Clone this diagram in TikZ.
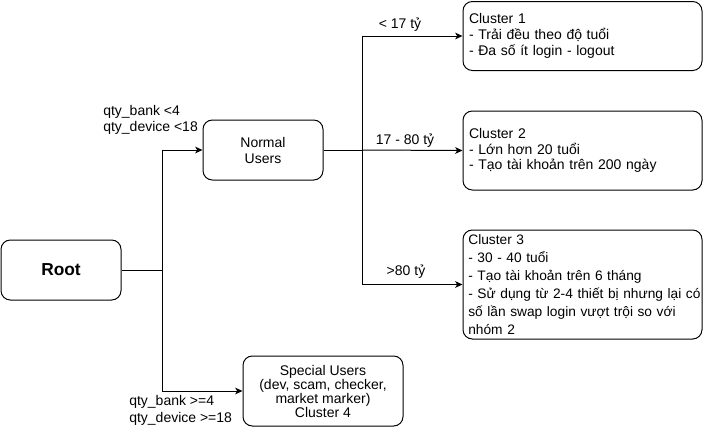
\documentclass[tikz,border=0pt]{standalone}
\usepackage{fontspec}
\setmainfont{Liberation Sans}
\usetikzlibrary{arrows.meta}
\begin{document}
\begin{tikzpicture}[x=0.75pt,y=-0.75pt,
  box/.style={draw,line width=0.75pt,rounded corners=7pt,inner sep=0pt,font=\fontsize{10.5pt}{12pt}\selectfont},
  cbox/.style={box,inner xsep=4.5pt,inner ysep=0pt,text width=170.25pt,minimum width=179.25pt,align=left},
  lbl/.style={inner sep=0pt,font=\fontsize{10.5pt}{12pt}\selectfont},
  conn/.style={line width=0.75pt,-{Stealth[length=5.5pt,width=5pt,inset=1.5pt]}},
  plain/.style={line width=0.75pt}]
\useasboundingbox (0,0) rectangle (704,426);
\node[box,minimum width=90pt,minimum height=45pt,font=\fontsize{13pt}{15pt}\selectfont\bfseries] (root) at (61,270) {Root};
\node[box,minimum width=90pt,minimum height=45pt,align=center] (normal) at (263,150) {Normal\\Users};
\node[box,minimum width=120pt,minimum height=52.5pt,align=center,font=\fontsize{10.5pt}{10.5pt}\selectfont] (special) at (323,391) {Special Users\\(dev, scam, checker,\\market marker)\\Cluster 4};
\node[cbox,minimum height=51.75pt,font=\fontsize{10.5pt}{11.9pt}\selectfont] (c1) at (582.5,36) {Cluster 1\\- Trải đều theo độ tuổi\\- Đa số ít login - logout};
\node[cbox,minimum height=59.25pt,font=\fontsize{10.5pt}{11.9pt}\selectfont] (c2) at (582.5,150.5) {Cluster 2\\- Lớn hơn 20 tuổi\\- Tạo tài khoản trên 200 ngày};
\node[cbox,inner xsep=4pt,text width=171.25pt,minimum height=81.75pt,font=\fontsize{10.3pt}{13.6pt}\selectfont] (c3) at (582.5,284.5) {Cluster 3\\- 30 - 40 tuổi\\- Tạo tài khoản trên 6 tháng\\\mbox{- Sử dụng từ 2-4 thiết bị nhưng lại có}\\số lần swap login vượt trội so với\\nhóm 2};
\coordinate (j1) at (162,270);
\coordinate (j2) at (362,150);
\draw[plain] (root.east) -- (j1);
\draw[conn] (j1) |- (normal.west);
\draw[conn] (j1) |- (special.west);
\draw[plain] (normal.east) -- (j2);
\draw[conn] (j2) |- (c1.west);
\draw[conn] (j2) -- (c2.west);
\draw[conn] (j2) |- (c3.west);
\node[lbl,anchor=west,align=left,font=\fontsize{10.5pt}{12pt}\selectfont] (l1) at (103,120) {qty\_bank <4\\qty\_device <18};
\node[lbl,anchor=west,align=left,font=\fontsize{10.5pt}{12.75pt}\selectfont] (l2) at (129,410) {qty\_bank >=4\\qty\_device >=18};
\node[lbl,anchor=base] (t1) at (400,28.3) {< 17 tỷ};
\node[lbl,anchor=base] (t2) at (405,144.3) {17 - 80 tỷ};
\node[lbl,anchor=base] (t3) at (406,275.7) {>80 tỷ};
\end{tikzpicture}
\end{document}
